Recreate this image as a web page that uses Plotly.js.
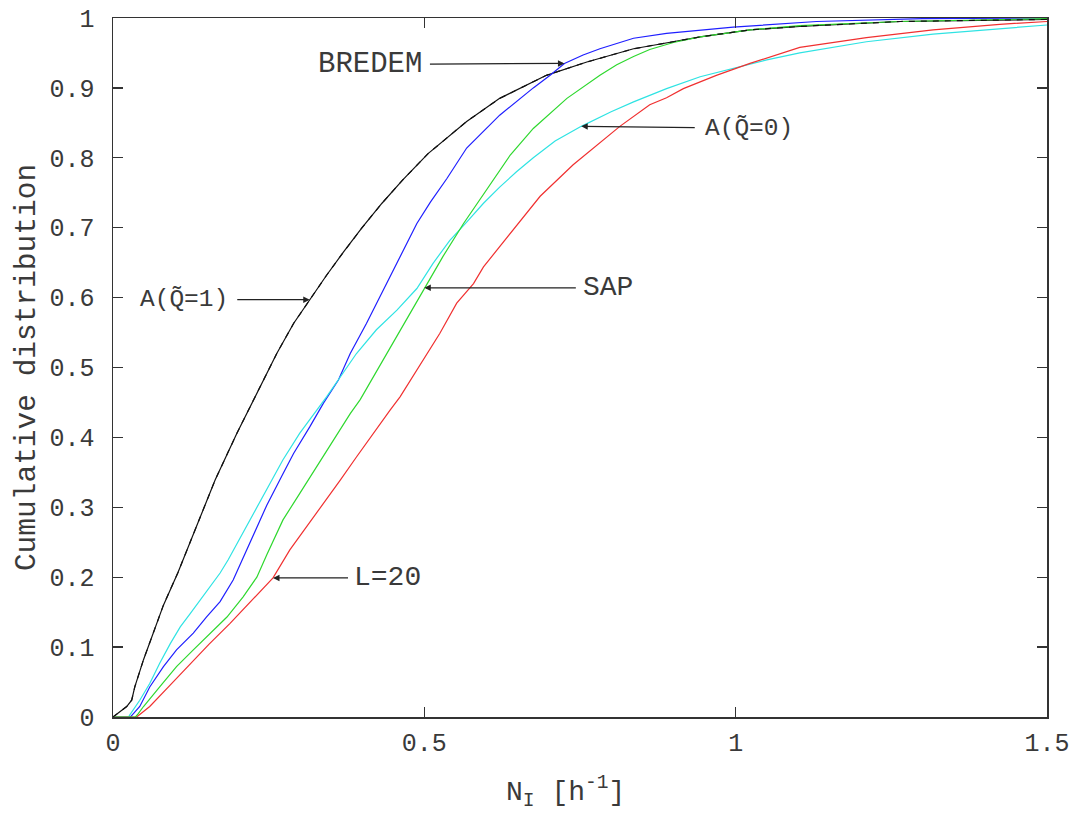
<!DOCTYPE html>
<html>
<head>
<meta charset="utf-8">
<script src="https://cdn.plot.ly/plotly-3.0.1.min.js"></script>
<style>
  html, body { margin: 0; padding: 0; background: #fff; }
  #chart { width: 1078px; height: 814px; }
</style>
</head>
<body>
<div id="chart"></div>
<script>
// Cumulative distributions of infiltration rate N_I for five estimation methods.

// A(Q~=1) — black
const akX = [0, 0.022, 0.030, 0.035, 0.049, 0.059, 0.081, 0.104, 0.134, 0.164, 0.199, 0.231, 0.263, 0.290, 0.316, 0.343, 0.370, 0.400, 0.432, 0.465, 0.506, 0.568, 0.621, 0.696, 0.761, 0.836, 0.868, 0.943, 1.023, 1.103, 1.264, 1.5];
const akY = [0, 0.015, 0.024, 0.043, 0.082, 0.106, 0.160, 0.206, 0.272, 0.339, 0.406, 0.463, 0.520, 0.563, 0.597, 0.632, 0.665, 0.700, 0.735, 0.768, 0.806, 0.852, 0.885, 0.918, 0.937, 0.956, 0.961, 0.973, 0.983, 0.988, 0.995, 0.998];

// BREDEM — blue
const brX = [0, 0.028, 0.031, 0.043, 0.059, 0.081, 0.102, 0.129, 0.150, 0.172, 0.193, 0.220, 0.247, 0.273, 0.290, 0.316, 0.338, 0.362, 0.381, 0.407, 0.434, 0.461, 0.488, 0.510, 0.536, 0.568, 0.621, 0.675, 0.702, 0.725, 0.755, 0.782, 0.836, 0.889, 0.996, 1.130, 1.300, 1.5];
const brY = [0, 0, 0.003, 0.015, 0.043, 0.072, 0.096, 0.120, 0.143, 0.165, 0.196, 0.250, 0.303, 0.348, 0.377, 0.415, 0.449, 0.482, 0.520, 0.563, 0.611, 0.659, 0.706, 0.737, 0.770, 0.814, 0.861, 0.900, 0.918, 0.935, 0.947, 0.956, 0.971, 0.978, 0.987, 0.995, 0.999, 1.0];

// SAP — green
const sapX = [0, 0.036, 0.040, 0.049, 0.075, 0.102, 0.129, 0.156, 0.183, 0.209, 0.231, 0.247, 0.273, 0.300, 0.327, 0.354, 0.381, 0.397, 0.434, 0.461, 0.498, 0.530, 0.563, 0.589, 0.611, 0.638, 0.675, 0.729, 0.782, 0.809, 0.836, 0.862, 0.900, 0.943, 1.023, 1.103, 1.264, 1.5];
const sapY = [0, 0, 0.004, 0.015, 0.043, 0.072, 0.096, 0.120, 0.143, 0.172, 0.200, 0.232, 0.282, 0.320, 0.358, 0.396, 0.434, 0.454, 0.511, 0.554, 0.611, 0.659, 0.706, 0.740, 0.768, 0.804, 0.842, 0.885, 0.918, 0.933, 0.945, 0.955, 0.965, 0.973, 0.983, 0.989, 0.995, 0.999];

// A(Q~=0) — cyan
const azX = [0, 0.025, 0.027, 0.043, 0.059, 0.075, 0.092, 0.108, 0.124, 0.140, 0.156, 0.172, 0.185, 0.220, 0.247, 0.273, 0.300, 0.327, 0.343, 0.391, 0.423, 0.456, 0.488, 0.514, 0.541, 0.568, 0.595, 0.621, 0.648, 0.675, 0.710, 0.752, 0.800, 0.836, 0.889, 0.943, 1.050, 1.103, 1.210, 1.317, 1.424, 1.5];
const azY = [0, 0, 0.003, 0.024, 0.048, 0.077, 0.105, 0.129, 0.148, 0.167, 0.186, 0.206, 0.225, 0.282, 0.325, 0.368, 0.406, 0.439, 0.458, 0.520, 0.554, 0.582, 0.613, 0.649, 0.682, 0.708, 0.735, 0.758, 0.780, 0.800, 0.824, 0.845, 0.866, 0.880, 0.899, 0.916, 0.940, 0.950, 0.966, 0.977, 0.985, 0.990];

// L=20 — red
const lX = [0, 0.038, 0.045, 0.059, 0.091, 0.122, 0.154, 0.188, 0.220, 0.257, 0.284, 0.311, 0.338, 0.365, 0.391, 0.418, 0.445, 0.461, 0.498, 0.525, 0.552, 0.579, 0.595, 0.621, 0.686, 0.739, 0.782, 0.814, 0.862, 0.889, 0.916, 0.969, 1.023, 1.103, 1.210, 1.317, 1.424, 1.5];
const lY = [0, 0, 0.005, 0.015, 0.045, 0.074, 0.104, 0.134, 0.164, 0.199, 0.239, 0.272, 0.306, 0.339, 0.372, 0.406, 0.439, 0.458, 0.511, 0.549, 0.592, 0.620, 0.644, 0.673, 0.745, 0.790, 0.822, 0.845, 0.876, 0.886, 0.899, 0.918, 0.935, 0.958, 0.972, 0.983, 0.991, 0.995];

// Tick values / labels
const xTicks = [0, 0.5, 1, 1.5];
const xTickText = ['0', '0.5', '1', '1.5'];
const yTicks = [0, 0.1, 0.2, 0.3, 0.4, 0.5, 0.6, 0.7, 0.8, 0.9, 1];
const yTickText = ['0', '0.1', '0.2', '0.3', '0.4', '0.5', '0.6', '0.7', '0.8', '0.9', '1'];

// Curve labels and the distribution level where each arrow meets its curve
const labelText = ['BREDEM', 'A(Q\u0303=0)', 'A(Q\u0303=1)', 'SAP', 'L=20'];
const labelLevel = [0.935, 0.845, 0.597, 0.614, 0.199];

const MONO = 'Liberation Mono, Courier New, monospace';
const INK = '#3a3a3a';

const series = [
  {name: 'A(Q\u0303=1)', x: akX, y: akY, color: '#111111'},
  {name: 'BREDEM', x: brX, y: brY, color: '#1f1fff'},
  {name: 'A(Q\u0303=0)', x: azX, y: azY, color: '#2fe3e3'},
  {name: 'L=20', x: lX, y: lY, color: '#f03030'},
  {name: 'SAP', x: sapX, y: sapY, color: '#2ed82e'}
];

const traces = series.map(s => ({
  type: 'scatter', mode: 'lines', name: s.name,
  x: s.x, y: s.y,
  line: {color: s.color, width: 1.2},
  hoverinfo: 'x+y+name'
}));
// black drawn again on top so it shows over the green near the top
traces.push({type: 'scatter', mode: 'lines', x: akX, y: akY, showlegend: false,
  line: {color: '#111111', width: 1.2, dash: '6px,6px'}, hoverinfo: 'skip'});

// x position on a curve where it reaches a given level (curves are monotone)
function xAtLevel(xs, ys, level) {
  for (let i = 1; i < ys.length; i++) {
    if (ys[i] >= level) {
      const t = (level - ys[i - 1]) / ((ys[i] - ys[i - 1]) || 1);
      return xs[i - 1] + t * (xs[i] - xs[i - 1]);
    }
  }
  return xs[xs.length - 1];
}

const labelCurve = [series[1], series[2], series[0], series[4], series[3]];
const labelStyle = [
  {ax: -194, ay: 1, size: 29, pad: 7},
  {ax: 168, ay: 2, size: 24.5, pad: 10},
  {ax: -126, ay: 0, size: 24.5, pad: 9},
  {ax: 184, ay: 0, size: 28, pad: 7},
  {ax: 114, ay: 0, size: 28, pad: 5}
];

const annotations = labelText.map((txt, i) => ({
  x: xAtLevel(labelCurve[i].x, labelCurve[i].y, labelLevel[i]),
  y: labelLevel[i],
  xref: 'x', yref: 'y',
  text: txt,
  showarrow: true,
  ax: labelStyle[i].ax, ay: labelStyle[i].ay,
  axref: 'pixel', ayref: 'pixel',
  arrowhead: 2, arrowsize: 1, arrowwidth: 1.3, arrowcolor: '#222',
  borderpad: labelStyle[i].pad,
  font: {family: MONO, size: labelStyle[i].size, color: INK}
}));

// x-axis title, centred slightly left of the axis middle
annotations.push({
  xref: 'paper', yref: 'paper', x: 0.484, y: -0.077,
  xanchor: 'center', yanchor: 'top', showarrow: false, borderpad: 0,
  text: 'N<sub>I</sub> [h<sup>-1</sup>]',
  font: {family: MONO, size: 28, color: INK}
});

const axisCommon = {
  showline: true, linecolor: '#333', linewidth: 1.5, mirror: 'ticks',
  ticks: 'inside', ticklen: 10, tickwidth: 1.3, tickcolor: '#333',
  showgrid: false, zeroline: false,
  tickfont: {family: MONO, size: 25, color: INK}
};

const layout = {
  width: 1078, height: 814,
  margin: {l: 113, r: 31, t: 18, b: 97},
  paper_bgcolor: '#ffffff', plot_bgcolor: '#ffffff',
  showlegend: false,
  xaxis: Object.assign({}, axisCommon, {
    range: [0, 1.5], tickvals: xTicks, ticktext: xTickText,
    ticklabelstandoff: 2
  }),
  yaxis: Object.assign({}, axisCommon, {
    range: [0, 1], tickvals: yTicks, ticktext: yTickText,
    ticklabelstandoff: 12,
    title: {text: 'Cumulative distribution', font: {family: MONO, size: 29.5, color: INK}, standoff: 5}
  }),
  annotations: annotations
};

Plotly.newPlot('chart', traces, layout, {displayModeBar: false, staticPlot: true});
</script>
</body>
</html>
